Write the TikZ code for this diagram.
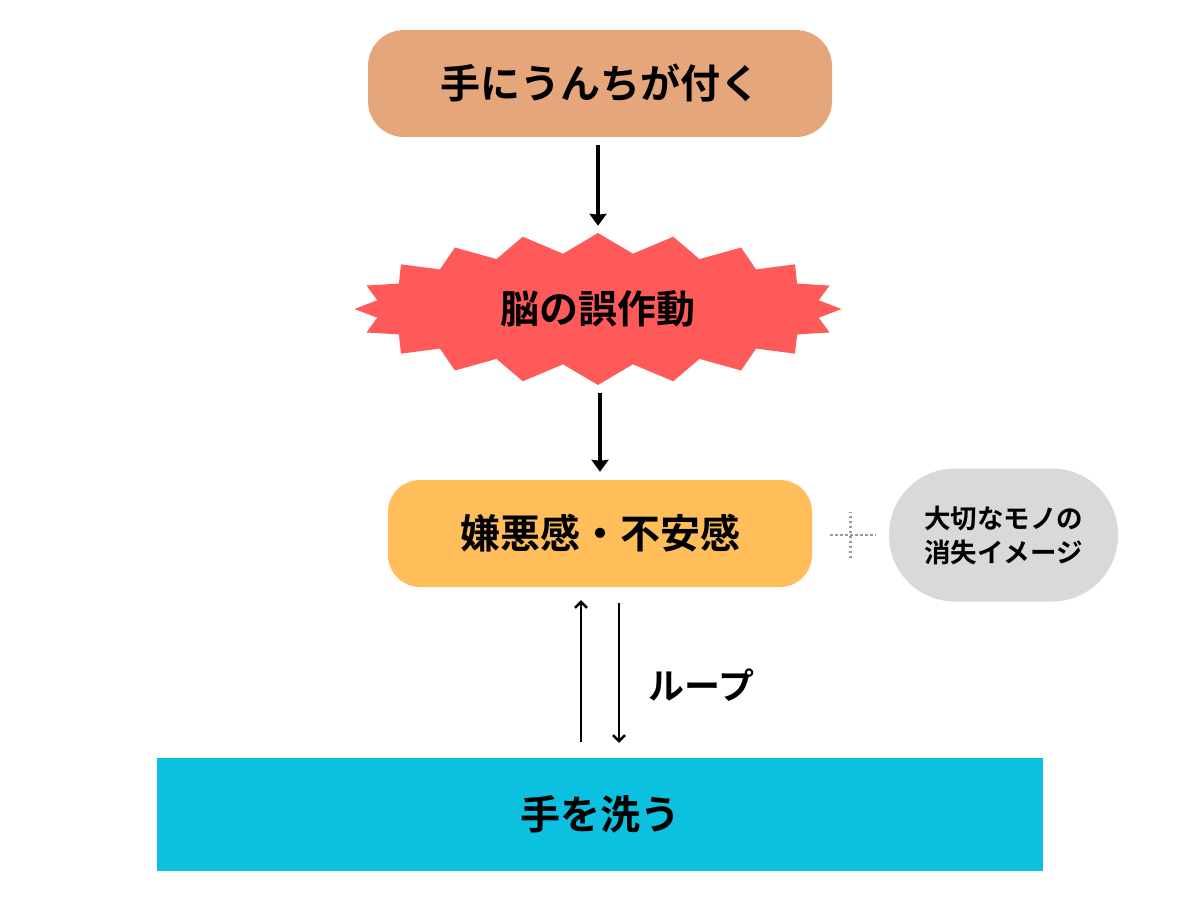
\documentclass[tikz,border=0pt]{standalone}
\usepackage{fontspec}
\setmainfont{Noto Sans CJK JP}[BoldFont={Noto Sans CJK JP Bold}]
\usetikzlibrary{arrows.meta,shapes.symbols,calc}

\definecolor{handtan}{HTML}{E6A67C}
\definecolor{brainred}{HTML}{FF5A5A}
\definecolor{feelorange}{HTML}{FFBE5A}
\definecolor{notegray}{HTML}{D9D9D9}
\definecolor{washcyan}{HTML}{0CC0DF}

\tikzset{
  box/.style={inner sep=0pt, font=\bfseries\fontsize{40}{44}\selectfont},
  burst/.style={starburst, starburst points=20, starburst point height=20pt,
    random starburst=0, fill=brainred, inner sep=0pt,
    minimum width=487pt, minimum height=152pt,
    font=\bfseries\fontsize{39}{44}\selectfont},
  bigarrow/.style={line width=4pt, -{Stealth[length=12pt,width=17pt,inset=1pt]}},
  looparrow/.style={line width=2.5pt, -{Straight Barb[length=6pt,width=12pt]}},
  linkdots/.style={gray!80, line width=2.5pt, dash pattern=on 2.5pt off 2.5pt}
}

\begin{document}
\begin{tikzpicture}[x=1pt,y=-1pt]
  \useasboundingbox (0,0) rectangle (1200,900);

  \node [box, fill=handtan, rounded corners=36pt, minimum width=464pt, minimum height=107pt]
    (hand) at (600,83.5) {手にうんちが付く};
  \node [burst] (brain) at (598,309) {脳の誤作動};
  \node [box, fill=feelorange, rounded corners=32pt, minimum width=424pt, minimum height=107pt]
    (feel) at (600,533.5) {嫌悪感・不安感};
  \node [fill=notegray, rounded corners=66pt, minimum width=229pt, minimum height=133pt,
    inner sep=0pt, align=center, font=\bfseries\fontsize{26.5}{34}\selectfont]
    (note) at (1003.5,535) {大切なモノの\\消失イメージ};
  \node [box, fill=washcyan, minimum width=886pt, minimum height=113pt]
    (wash) at (600,814.5) {手を洗う};

  \draw [bigarrow, shorten <=8pt, shorten >=7pt] (hand.south -| brain.north) -- (brain.north);
  \draw [bigarrow, shorten <=8pt, shorten >=8pt] (brain.south -| feel.north) -- (feel.north);

  % loop between feeling and washing
  \draw [looparrow, shorten <=16pt, shorten >=13pt] ([xshift=-19pt]wash.north) -- ([xshift=-19pt]feel.south);
  \draw [looparrow, shorten <=16pt, shorten >=15pt] ([xshift=19pt]feel.south) -- ([xshift=19pt]wash.north);
  \node [font=\bfseries\fontsize{36}{40}\selectfont, anchor=west] (loop) at (645,685) {ループ};

  % dotted link to the note
  \coordinate (mid) at ($(feel.east)!0.5!(note.west)$);
  \draw [linkdots, shorten <=18pt, shorten >=13pt] (feel.east |- note) -- (note.west);
  \draw [linkdots] ([yshift=-23pt]mid |- note) -- ([yshift=23pt]mid |- note);
\end{tikzpicture}
\end{document}
